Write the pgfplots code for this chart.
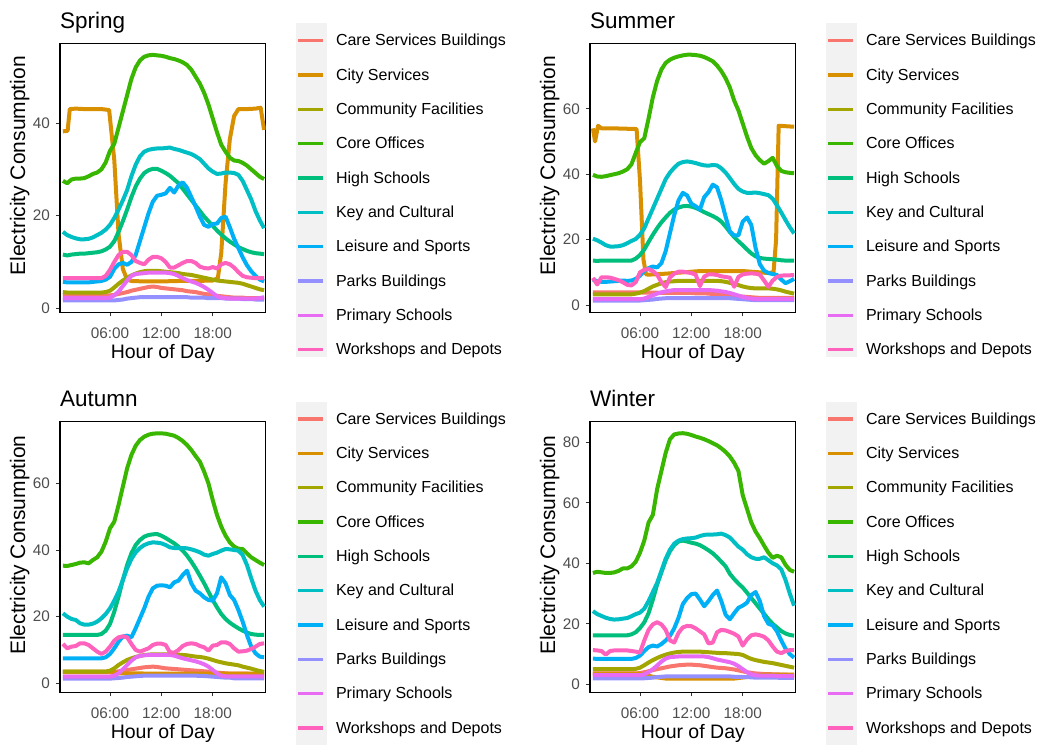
\documentclass[border=0pt]{standalone}
\usepackage{fontspec}
\setmainfont{Liberation Sans}
\usepackage{pgfplots}
\usepackage{pgfplotstable}
\pgfplotsset{compat=1.18}

% ggplot hue palette, 10 groups
\definecolor{cCare}{HTML}{F8766D}
\definecolor{cCity}{HTML}{D89000}
\definecolor{cComm}{HTML}{A3A500}
\definecolor{cCore}{HTML}{39B600}
\definecolor{cHigh}{HTML}{00BF7D}
\definecolor{cKey}{HTML}{00BFC4}
\definecolor{cLeis}{HTML}{00B0F6}
\definecolor{cPark}{HTML}{9590FF}
\definecolor{cPrim}{HTML}{E76BF3}
\definecolor{cWork}{HTML}{FF62BC}
\definecolor{keybg}{HTML}{F2F2F2}
\definecolor{tickgrey}{HTML}{4D4D4D}
\definecolor{tickmark}{HTML}{333333}

% columns: hour, care, community, core, high, key, leisure, parks, primary, workshops
\pgfplotstableread{
h care comm core high key leis parks prim work
0.5 2.8 3.5 27.5 11.6 16.5 5.7 1.7 2.3 6.5
1.0 2.8 3.4 27.0 11.4 15.8 5.6 1.7 2.2 6.5
1.5 2.8 3.4 27.8 11.6 15.4 5.6 1.7 2.2 6.5
2.0 2.8 3.4 28.0 11.7 15.1 5.6 1.7 2.2 6.5
2.5 2.8 3.4 28.0 11.8 14.9 5.6 1.7 2.2 6.5
3.0 2.8 3.4 28.1 11.8 14.9 5.6 1.7 2.2 6.5
3.5 2.8 3.4 28.5 11.9 15.0 5.6 1.7 2.2 6.5
4.0 2.8 3.4 29.0 12.0 15.3 5.7 1.7 2.2 6.5
4.5 2.8 3.4 29.3 12.1 15.8 5.8 1.7 2.2 6.5
5.0 2.8 3.4 30.0 12.3 16.3 5.9 1.7 2.2 6.5
5.5 2.8 3.5 31.5 12.7 17.0 6.2 1.7 2.2 7.0
6.0 2.8 3.8 34.0 13.3 18.0 6.8 1.7 2.3 8.3
6.5 2.9 4.5 35.5 14.5 19.5 8.5 1.7 2.8 10.0
7.0 3.1 5.3 39.0 16.5 21.3 9.5 1.8 3.6 11.5
7.5 3.3 6.0 42.5 18.8 23.3 9.8 1.9 4.8 12.2
8.0 3.5 6.6 46.0 21.3 25.5 9.4 2.1 6.0 12.2
8.5 3.8 7.1 49.5 24.0 28.5 10.0 2.2 7.0 11.5
9.0 4.0 7.5 52.0 26.3 31.0 11.5 2.3 7.4 10.2
9.5 4.2 7.8 53.5 28.0 32.8 14.5 2.4 7.5 9.8
10.0 4.4 8.0 54.3 29.2 33.8 17.5 2.4 7.6 9.5
10.5 4.6 8.1 54.6 29.8 34.2 20.5 2.4 7.7 10.5
11.0 4.7 8.1 54.7 30.1 34.4 23.0 2.4 7.7 11.1
11.5 4.6 8.1 54.6 30.1 34.5 24.3 2.4 7.7 11.1
12.0 4.4 8.0 54.5 29.7 34.5 24.5 2.4 7.7 10.8
12.5 4.3 7.9 54.3 29.2 34.6 24.8 2.4 7.7 10.0
13.0 4.2 7.8 54.0 28.6 34.7 26.0 2.4 7.6 8.8
13.5 4.1 7.7 53.8 27.8 34.4 25.0 2.4 7.4 8.8
14.0 4.0 7.6 53.5 27.0 34.2 26.5 2.4 7.0 9.3
14.5 3.9 7.4 53.1 25.8 33.9 27.2 2.4 6.5 9.8
15.0 3.7 7.3 52.5 24.6 33.6 26.0 2.4 6.1 10.2
15.5 3.6 7.2 51.5 23.4 33.3 24.0 2.3 5.8 10.2
16.0 3.5 7.0 50.0 22.2 32.8 22.0 2.3 5.5 9.8
16.5 3.3 6.8 48.5 21.0 32.2 19.8 2.3 5.1 9.0
17.0 3.1 6.6 46.5 19.8 31.2 18.0 2.3 4.6 8.7
17.5 3.0 6.4 44.0 18.8 30.2 17.6 2.2 4.0 8.6
18.0 2.9 6.2 41.0 17.8 29.5 18.2 2.2 3.3 8.9
18.5 2.7 6.0 38.0 16.8 29.0 18.3 2.2 2.6 8.6
19.0 2.6 5.9 35.3 15.9 29.1 19.5 2.2 2.3 9.5
19.5 2.5 5.8 33.8 15.1 29.3 19.8 2.1 2.2 9.8
20.0 2.4 5.7 32.5 14.4 29.3 17.5 2.1 2.1 9.5
20.5 2.3 5.6 31.9 13.8 29.2 15.0 2.1 2.1 8.8
21.0 2.3 5.5 31.8 13.2 28.8 13.0 2.1 2.1 7.8
21.5 2.3 5.3 31.4 12.8 27.5 11.0 2.0 2.1 7.0
22.0 2.2 5.0 30.8 12.4 25.5 9.3 2.0 2.1 6.7
22.5 2.2 4.7 30.0 12.1 23.5 8.0 2.0 2.1 6.6
23.0 2.2 4.4 29.2 11.9 21.0 7.0 1.9 2.1 6.5
23.5 2.2 4.1 28.4 11.8 19.0 6.2 1.9 2.2 6.5
24.0 2.2 3.9 27.9 11.7 17.3 5.8 1.9 2.4 6.5
}\springdata

\pgfplotstableread{
h care comm core high key leis parks prim work
0.5 3.9 3.3 39.8 13.6 20.3 7.8 1.4 1.8 8.3
1.0 3.9 3.3 39.3 13.5 19.8 7.3 1.4 1.8 6.3
1.5 3.9 3.3 39.2 13.6 19.1 7.1 1.4 1.8 8.5
2.0 3.9 3.3 39.4 13.6 18.3 7.1 1.4 1.8 8.5
2.5 3.9 3.3 39.7 13.6 17.9 7.2 1.4 1.8 8.4
3.0 3.9 3.3 40.0 13.6 17.9 7.3 1.4 1.8 8.0
3.5 3.9 3.3 40.3 13.6 18.0 7.4 1.4 1.8 7.6
4.0 3.9 3.3 40.8 13.6 18.3 7.5 1.4 1.8 7.0
4.5 3.9 3.3 41.5 13.6 18.9 7.4 1.4 1.8 6.2
5.0 3.9 3.3 43.0 13.6 19.6 7.5 1.4 1.8 6.0
5.5 3.9 3.5 46.5 14.2 20.2 8.0 1.4 1.8 7.0
6.0 3.9 3.8 49.8 15.3 21.5 9.0 1.4 1.8 10.0
6.5 3.8 4.3 51.0 17.0 23.5 10.5 1.5 2.0 10.8
7.0 3.8 5.0 57.0 19.3 26.5 11.3 1.6 2.5 11.0
7.5 3.8 5.7 63.5 21.5 29.5 11.8 1.7 3.0 10.4
8.0 3.8 6.2 68.5 23.5 32.5 11.5 1.9 3.5 9.3
8.5 3.7 6.7 72.0 25.3 35.5 12.8 2.0 3.9 7.0
9.0 3.7 7.0 74.0 26.8 38.5 16.5 2.1 4.2 5.5
9.5 3.7 7.2 75.0 28.2 40.5 22.0 2.1 4.4 8.5
10.0 3.7 7.3 75.6 29.2 42.0 27.5 2.1 4.6 9.6
10.5 3.7 7.4 76.0 29.8 43.2 32.0 2.1 4.6 10.2
11.0 3.7 7.4 76.3 30.2 43.7 34.3 2.1 4.6 10.2
11.5 3.7 7.4 76.5 30.3 43.9 33.5 2.1 4.6 10.0
12.0 3.7 7.4 76.5 30.1 43.7 31.0 2.1 4.6 9.8
12.5 3.6 7.4 76.4 29.7 43.4 30.2 2.1 4.6 9.3
13.0 3.6 7.4 76.2 29.1 43.0 29.2 2.1 4.6 5.8
13.5 3.6 7.4 75.8 28.4 42.7 33.0 2.1 4.6 8.7
14.0 3.5 7.4 75.2 27.8 42.6 34.5 2.1 4.6 9.4
14.5 3.4 7.4 74.5 27.2 42.8 36.8 2.1 4.5 9.4
15.0 3.3 7.4 73.2 26.5 42.7 36.0 2.1 4.4 9.2
15.5 3.2 7.3 71.5 25.5 41.8 32.0 2.1 4.2 8.8
16.0 3.1 7.1 69.3 24.0 40.5 27.0 2.1 4.0 8.6
16.5 3.0 6.8 66.5 22.3 38.8 22.5 2.1 3.7 8.4
17.0 2.8 6.5 62.5 20.8 37.0 21.3 2.0 3.3 5.6
17.5 2.7 6.1 59.5 19.5 35.5 21.3 1.9 2.9 8.6
18.0 2.6 5.7 55.5 18.3 34.7 25.5 1.8 2.5 9.4
18.5 2.5 5.4 51.5 17.0 34.3 26.8 1.7 2.2 9.6
19.0 2.4 5.2 48.0 15.8 34.3 24.5 1.6 2.0 9.7
19.5 2.3 5.1 45.8 14.9 34.4 17.5 1.5 1.8 9.6
20.0 2.2 5.1 44.3 14.4 34.2 12.5 1.5 1.8 9.3
20.5 2.2 5.1 43.2 14.2 33.9 10.5 1.5 1.8 7.5
21.0 2.2 5.1 44.0 14.1 33.6 9.8 1.5 1.8 5.6
21.5 2.2 5.0 45.0 14.0 32.5 9.5 1.5 1.8 7.5
22.0 2.2 4.8 42.5 13.9 30.5 9.2 1.5 1.8 8.6
22.5 2.2 4.5 41.0 13.7 28.3 7.8 1.5 1.8 9.0
23.0 2.2 4.1 40.6 13.6 26.0 6.7 1.5 1.8 9.1
23.5 2.2 3.8 40.4 13.6 23.8 7.3 1.5 1.8 9.1
24.0 2.2 3.5 40.3 13.6 21.9 8.0 1.5 1.8 9.2
}\summerdata

\pgfplotstableread{
h care comm core high key leis parks prim work
0.5 3.3 3.5 35.3 14.5 21.0 7.5 1.4 2.0 11.8
1.0 3.3 3.5 35.2 14.5 20.0 7.5 1.4 2.0 10.5
1.5 3.3 3.5 35.5 14.5 19.3 7.5 1.4 2.0 11.0
2.0 3.3 3.5 35.8 14.5 19.0 7.5 1.4 2.0 11.2
2.5 3.3 3.5 36.2 14.5 18.0 7.5 1.4 2.0 12.0
3.0 3.3 3.5 36.3 14.5 17.6 7.5 1.4 2.0 12.0
3.5 3.3 3.5 36.0 14.5 17.6 7.5 1.4 2.0 11.5
4.0 3.3 3.5 37.0 14.5 17.9 7.5 1.4 2.0 10.5
4.5 3.3 3.5 37.8 14.5 18.5 7.5 1.4 2.0 9.5
5.0 3.3 3.5 39.5 14.8 19.5 7.5 1.4 2.0 8.8
5.5 3.3 3.5 42.5 15.8 20.8 7.8 1.4 2.0 9.5
6.0 3.3 3.8 46.5 17.8 22.5 8.8 1.4 2.0 11.0
6.5 3.4 4.5 48.5 21.5 24.8 10.5 1.5 2.3 12.8
7.0 3.6 5.5 53.5 26.0 27.5 12.5 1.6 3.0 13.8
7.5 3.8 6.3 59.0 31.0 31.0 14.0 1.7 4.2 14.1
8.0 4.0 7.0 64.5 35.5 34.5 14.3 1.9 5.5 13.8
8.5 4.2 7.5 68.5 39.0 37.3 13.8 2.0 6.8 11.8
9.0 4.4 7.9 71.3 41.5 39.3 16.5 2.1 7.8 10.0
9.5 4.6 8.2 73.0 43.0 40.6 19.5 2.2 8.2 9.5
10.0 4.8 8.5 74.0 44.0 41.5 22.5 2.3 8.4 10.0
10.5 4.9 8.6 74.6 44.5 42.0 26.0 2.3 8.5 10.5
11.0 5.0 8.7 74.9 44.7 42.3 28.5 2.3 8.5 11.5
11.5 4.9 8.7 75.0 44.8 42.2 29.3 2.3 8.5 11.9
12.0 4.7 8.7 75.0 44.3 42.0 29.4 2.3 8.5 11.9
12.5 4.5 8.7 74.9 43.6 41.5 29.3 2.3 8.5 11.5
13.0 4.4 8.7 74.6 42.8 40.8 28.8 2.3 8.5 9.3
13.5 4.3 8.7 74.3 42.0 40.6 30.3 2.3 8.3 9.2
14.0 4.2 8.6 73.6 41.0 40.6 30.8 2.3 7.9 10.0
14.5 4.1 8.5 72.7 39.8 40.6 32.5 2.3 7.5 11.2
15.0 4.0 8.4 71.5 38.3 40.5 33.8 2.3 7.2 11.8
15.5 3.9 8.2 70.0 36.5 40.2 30.0 2.3 6.9 12.0
16.0 3.8 8.0 68.2 34.5 39.8 27.8 2.3 6.6 11.8
16.5 3.7 7.9 66.5 32.3 39.3 27.0 2.2 6.2 11.2
17.0 3.6 7.7 63.5 30.0 38.6 25.8 2.2 5.7 10.8
17.5 3.5 7.4 60.0 27.5 38.3 25.0 2.1 5.0 9.8
18.0 3.4 7.0 55.0 25.0 38.8 24.8 2.0 4.0 11.3
18.5 3.2 6.6 50.5 22.8 39.2 27.0 1.9 3.0 11.5
19.0 3.1 6.3 47.0 20.8 39.8 31.8 1.8 2.3 12.3
19.5 3.0 6.0 44.3 19.3 40.3 30.0 1.7 2.1 12.3
20.0 2.9 5.8 42.3 18.2 40.2 26.5 1.7 2.1 11.8
20.5 2.9 5.6 41.0 17.3 40.0 25.0 1.5 2.1 10.5
21.0 2.9 5.4 40.4 16.5 39.8 22.0 1.5 2.1 9.5
21.5 2.9 5.0 40.3 15.8 38.5 18.5 1.5 2.1 9.6
22.0 2.9 4.7 39.0 15.2 35.5 14.5 1.5 2.1 9.8
22.5 2.8 4.4 37.8 14.8 31.5 11.0 1.5 2.1 10.3
23.0 2.8 4.0 37.0 14.6 27.8 9.0 1.5 2.1 11.0
23.5 2.8 3.7 36.2 14.5 25.0 8.0 1.5 2.1 11.8
24.0 2.8 3.4 35.5 14.5 23.0 7.8 1.5 2.1 12.0
}\autumndata

\pgfplotstableread{
h care comm core high key leis parks prim work
0.5 3.6 5.0 36.8 16.2 24.2 8.5 2.0 3.0 11.3
1.0 3.6 5.0 37.2 16.2 23.2 8.4 2.0 3.0 11.2
1.5 3.6 5.0 37.0 16.2 22.6 8.4 2.0 3.0 11.0
2.0 3.6 5.0 36.8 16.2 22.0 8.4 2.0 3.0 9.8
2.5 3.6 5.0 36.8 16.2 21.6 8.4 2.0 3.0 11.0
3.0 3.6 5.0 37.0 16.2 21.4 8.4 2.0 3.0 11.2
3.5 3.6 5.0 37.5 16.2 21.5 8.4 2.0 3.0 11.2
4.0 3.6 5.0 38.3 16.2 21.7 8.4 2.0 3.0 11.2
4.5 3.6 5.0 38.3 16.2 21.9 8.4 2.0 3.0 11.2
5.0 3.6 5.0 39.0 16.5 22.5 8.4 2.0 3.0 11.0
5.5 3.6 5.1 40.5 17.2 23.2 8.7 2.0 3.0 10.8
6.0 3.7 5.5 43.5 18.6 23.7 9.5 2.0 3.0 10.5
6.5 4.0 6.3 47.5 20.5 25.0 11.0 2.0 3.3 14.5
7.0 4.3 7.2 53.5 23.5 27.5 12.3 2.1 4.0 18.0
7.5 4.7 8.0 56.0 28.0 30.5 12.8 2.2 5.0 19.8
8.0 5.0 8.7 64.5 33.0 33.5 12.5 2.4 6.2 20.5
8.5 5.3 9.3 70.5 37.0 37.5 13.3 2.5 7.5 19.8
9.0 5.6 9.8 76.5 41.0 41.5 14.5 2.6 8.5 18.0
9.5 5.9 10.2 81.0 44.0 44.5 16.0 2.6 9.0 14.5
10.0 6.1 10.5 82.6 46.0 46.5 18.5 2.6 9.1 13.8
10.5 6.3 10.7 82.9 47.2 47.5 22.0 2.6 9.2 17.0
11.0 6.4 10.8 83.0 47.5 48.0 26.5 2.6 9.2 18.8
11.5 6.5 10.8 82.8 47.2 48.2 28.5 2.6 9.2 19.3
12.0 6.5 10.8 82.4 46.8 48.3 29.8 2.6 9.2 19.2
12.5 6.4 10.8 81.9 46.5 48.5 30.0 2.6 9.2 18.5
13.0 6.3 10.8 81.5 46.0 49.0 28.0 2.6 9.2 17.5
13.5 6.1 10.7 81.0 45.2 49.4 25.8 2.6 9.2 16.5
14.0 5.9 10.6 80.4 44.3 49.5 27.5 2.6 9.0 13.5
14.5 5.7 10.5 79.7 43.3 49.5 29.5 2.6 8.6 13.8
15.0 5.5 10.4 79.0 42.0 49.6 31.0 2.6 8.2 17.2
15.5 5.4 10.3 78.0 40.5 49.8 27.5 2.6 7.9 18.0
16.0 5.3 10.3 76.8 39.0 49.3 23.0 2.6 7.6 17.8
16.5 5.1 10.2 75.3 36.5 48.5 21.5 2.6 7.3 17.3
17.0 4.9 10.1 73.2 34.8 47.0 23.5 2.5 6.8 16.7
17.5 4.6 10.0 70.5 33.3 45.5 25.3 2.5 6.0 15.8
18.0 4.3 9.7 62.5 32.0 44.5 26.0 2.4 5.0 12.8
18.5 4.0 9.0 58.0 30.3 43.0 27.0 2.4 4.0 14.8
19.0 3.8 8.4 53.5 28.5 42.0 29.5 2.3 3.3 16.2
19.5 3.6 8.0 50.5 26.8 41.5 30.5 2.2 3.0 16.5
20.0 3.5 7.7 48.3 25.0 41.5 27.5 2.2 2.9 16.2
20.5 3.4 7.4 45.8 23.3 42.0 22.5 2.2 2.9 15.7
21.0 3.4 7.2 43.5 21.5 41.0 20.0 2.2 2.9 14.5
21.5 3.3 7.0 41.8 20.0 40.0 19.5 2.2 2.9 12.5
22.0 3.3 6.7 42.5 18.8 39.3 17.5 2.2 2.8 10.8
22.5 3.2 6.4 42.0 17.6 38.0 14.5 2.1 2.8 10.3
23.0 3.2 6.1 39.5 16.8 34.5 11.8 2.1 2.8 11.0
23.5 3.1 5.8 37.8 16.3 30.0 10.0 2.1 2.8 11.3
24.0 3.1 5.5 37.2 16.1 26.0 8.8 2.1 2.8 11.3
}\winterdata

\pgfplotsset{
  season/.style={
    scale only axis, width=205.7pt,
    xmin=0.158, xmax=24.19,
    xtick={6,12,18}, xticklabels={06:00,12:00,18:00},
    tick pos=left, tick align=outside,
    major tick length=4pt,
    every tick/.style={draw=tickmark, line width=0.9pt},
    axis line style={line width=1.2pt, black},
    /pgf/number format/assume math mode=true,
    tick label style={font=\fontsize{15.3}{18}\selectfont, text=tickgrey},
    xticklabel style={anchor=base, inner sep=0pt, yshift=-22pt},
    yticklabel style={anchor=east, inner sep=0pt, xshift=-6pt},
    xlabel={Hour of Day}, ylabel={Electricity Consumption},
    every axis x label/.style={at={(axis description cs:0.5,0)}, anchor=base,
      yshift=-46pt, font=\fontsize{19.5}{23}\selectfont},
    every axis y label/.style={at={(axis description cs:-0.170,0.544)},
      rotate=90, anchor=base, font=\fontsize{21}{25}\selectfont},
    every axis title/.style={at={(axis description cs:0,1)}, anchor=base west,
      yshift=15pt, inner sep=0pt, font=\fontsize{22.5}{27}\selectfont},
    every axis plot/.append style={line width=4pt, line join=round},
    legend style={
      at={(axis description cs:1,1)}, anchor=north west,
      xshift=30.3pt, yshift=19.8pt,
      draw=none, fill=none, inner sep=0pt, outer sep=0pt,
      row sep=0pt,
      font=\fontsize{16}{19}\selectfont,
      nodes={inner sep=0pt, text=black},
    },
    legend cell align=left,
    % key cell is 30.7pt wide (grey column) plus the gap before the text
    legend image code/.code={%
      \path[draw=none, fill=none] (0pt,-17.165pt) rectangle (40pt,17.165pt);
      \draw[##1, fill=none, line width=3.5pt] (2.3pt,0pt) -- (27.3pt,0pt);
    },
  }
}

% one panel: #1 = table, #2 = City Services coordinates
\newcommand{\seasonplots}[2]{%
  \addplot[cCare] table[x=h,y=care]{#1};
  \addplot[cCity] coordinates {#2};
  \addplot[cComm] table[x=h,y=comm]{#1};
  \addplot[cCore] table[x=h,y=core]{#1};
  \addplot[cHigh] table[x=h,y=high]{#1};
  \addplot[cKey]  table[x=h,y=key]{#1};
  \addplot[cLeis] table[x=h,y=leis]{#1};
  \addplot[cPark] table[x=h,y=parks]{#1};
  \addplot[cPrim] table[x=h,y=prim]{#1};
  \addplot[cWork] table[x=h,y=work]{#1};
  \legend{Care Services Buildings, City Services, Community Facilities,
    Core Offices, High Schools, Key and Cultural, Leisure and Sports,
    Parks Buildings, Primary Schools, Workshops and Depots}
}

\begin{document}
\begin{tikzpicture}
\useasboundingbox (0,0) rectangle (1042pt,745pt);

% grey key columns behind the legends
\fill[keybg] (296pt,388pt) rectangle (326.7pt,721.5pt);
\fill[keybg] (826pt,388pt) rectangle (856.7pt,721.5pt);
\fill[keybg] (296pt,0pt) rectangle (326.7pt,343.2pt);
\fill[keybg] (826pt,0pt) rectangle (856.7pt,343.2pt);

\begin{axis}[season, at={(60pt,432.7pt)}, anchor=south west, height=269pt,
  ymin=-0.86, ymax=57.2, ytick={0,20,40}, title={Spring}]
  \seasonplots{\springdata}{(0.5,38.2) (1.05,38.3) (1.3,43.0) (2,43.1) (3,43.0)
    (4,43.0) (5,43.0) (5.9,42.8) (6.5,32.0) (7.0,16.0) (7.5,8.5) (8.0,6.2)
    (8.5,5.9) (10,5.8) (12,5.8) (14,5.9) (16,5.9) (18,6.0) (18.6,6.5)
    (19.0,12.0) (19.5,27.0) (20.0,36.5) (20.5,41.5) (21.0,43.0) (22,43.0)
    (23,43.1) (23.6,43.3) (24.0,38.5)}
\end{axis}

\begin{axis}[season, at={(590pt,432.7pt)}, anchor=south west, height=269pt,
  ymin=-2.2, ymax=80.0, ytick={0,20,40,60}, title={Summer}]
  \seasonplots{\summerdata}{(0.5,54.0) (0.75,50.0) (1.1,54.8) (1.5,54.0)
    (3,54.0) (5.6,53.8) (6.0,38.0) (6.4,14.0) (6.7,9.4) (7,9.3) (9,9.6)
    (12,10.2) (13,10.4) (18,10.4) (21,9.8) (21.6,10.0) (21.9,20.0)
    (22.2,54.8) (24,54.5)}
\end{axis}

\begin{axis}[season, at={(60pt,52.7pt)}, anchor=south west, height=270.6pt,
  ymin=-2.7, ymax=78.5, ytick={0,20,40,60}, title={Autumn}]
  \seasonplots{\autumndata}{(0.5,3.5) (6,3.5) (7,3.0) (12,2.9) (18,2.9) (24,2.9)}
\end{axis}

\begin{axis}[season, at={(590pt,52.7pt)}, anchor=south west, height=270.6pt,
  ymin=-2.64, ymax=86.8, ytick={0,20,40,60,80}, title={Winter}]
  \seasonplots{\winterdata}{(0.5,3.5) (6,3.5) (7.5,2.5) (9,1.9) (17,1.9)
    (19,2.6) (20.5,3.2) (24,3.2)}
\end{axis}
\end{tikzpicture}
\end{document}
